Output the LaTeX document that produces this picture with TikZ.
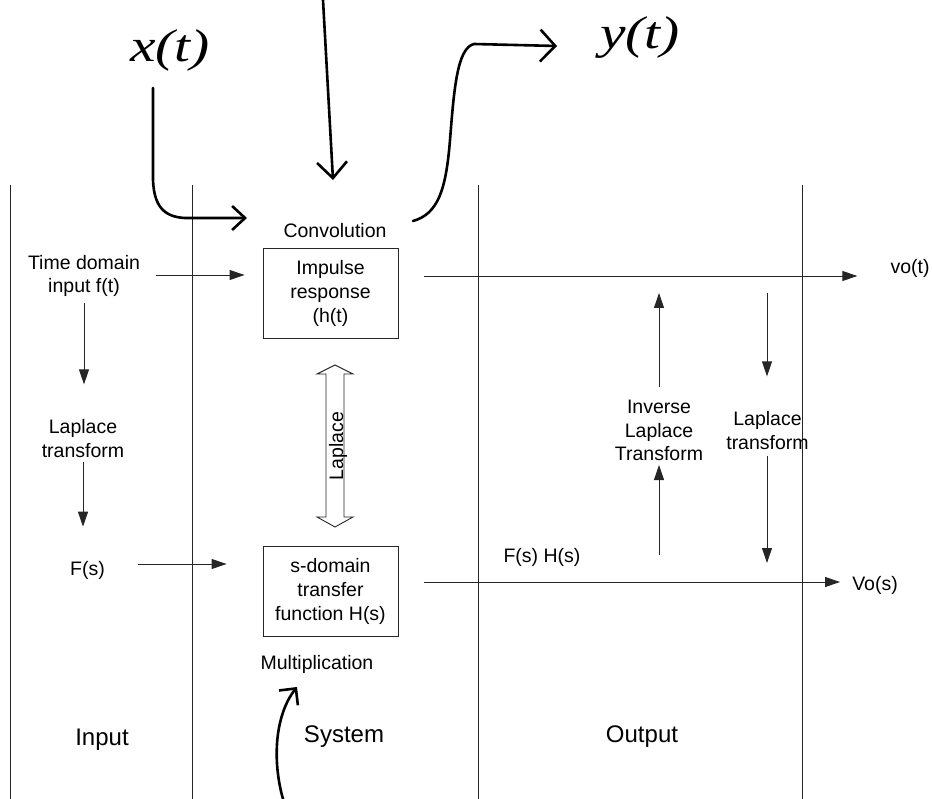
\documentclass[tikz,border=0pt]{standalone}
\usepackage{fontspec}
\setmainfont{Liberation Sans}
\newfontfamily\hwfont[FakeStretch=1.25]{Liberation Serif}
\usetikzlibrary{arrows.meta}
\begin{document}
\begin{tikzpicture}[x=1pt,y=-1pt,
  thinln/.style={line width=0.9pt, draw=black!85},
  arr/.style={thinln, -{Triangle[length=15pt,width=10pt]}},
  lbl/.style={font=\fontsize{19.5}{23.5}\selectfont, align=center, inner sep=0pt},
  big/.style={font=\fontsize{24}{28}\selectfont, inner sep=0pt},
  blk/.style={draw=black!85, line width=0.9pt, minimum width=135pt, minimum height=90pt,
    align=center, font=\fontsize{19.5}{24}\selectfont, inner sep=2pt},
  hand/.style={line width=2.6pt, line cap=round, line join=round},
  handtxt/.style={font=\fontsize{46}{46}\selectfont\hwfont\itshape, inner sep=0pt}
]
\useasboundingbox (0,0) rectangle (932,799);

% column lines
\foreach \x in {10,192,478,802} \draw[thinln] (\x,185) -- (\x,799);

% nodes
\node[lbl] (conv) at (335,231) {Convolution};
\node[blk] (imp) at (330.5,293) {Impulse\\response\\(h(t)};
\node[blk] (sdom) at (330.5,591) {s-domain\\transfer\\function H(s)};
\node[lbl] (mult) at (317,664) {Multiplication};
\node[lbl] (tdi) at (84,276) {Time domain\\input f(t)};
\node[lbl] (ltl) at (83,438.5) {Laplace\\transform};
\node[lbl] (fs) at (87.5,570) {F(s)};
\node[lbl] (vot) at (910,268) {vo(t)};
\node[lbl] (vos) at (875,585) {Vo(s)};
\node[lbl] (inv) at (659,430.5) {Inverse\\Laplace\\Transform};
\node[lbl] (ltr) at (767.5,430.5) {Laplace\\transform};
\node[lbl] (fshs) at (542,557) {F(s) H(s)};
\node[big] (inp) at (102,740) {Input};
\node[big] (sys) at (344,737) {System};
\node[big] (outp) at (642,737) {Output};

% free ends
\coordinate (iu) at (659,293);
\coordinate (il) at (659,555);
\coordinate (dt) at (767,293);
\coordinate (db) at (767,563);

% connectors
\draw[arr, shorten <=16pt, shorten >=18pt] ([yshift=1pt]tdi.east) -- ([yshift=1pt]tdi.east -| imp.west);
\draw[arr, shorten <=6pt, shorten >=35pt] (tdi.south) -- (tdi.south |- ltl.north);
\draw[arr, shorten <=4pt, shorten >=34pt] (ltl.south) -- (ltl.south |- fs.north);
\draw[arr, shorten <=33pt, shorten >=36pt] ([yshift=6pt]fs.east) -- ([yshift=6pt]fs.east -| sdom.west);
\draw[arr, shorten <=26pt, shorten >=33pt] ([yshift=17pt]imp.east) -- ([yshift=17pt]imp.east -| vot.west);
\draw[arr, shorten <=26pt, shorten >=12pt] ([yshift=9pt]sdom.east) -- ([yshift=9pt]sdom.east -| vos.west);
\draw[arr, shorten >=4pt] (il) -- (il |- inv.south);
\draw[arr, shorten <=13pt] (iu |- inv.north) -- (iu);
\draw[arr, shorten >=35pt] (dt) -- (dt |- ltr.north);
\draw[arr, shorten <=6pt] (db |- ltr.south) -- (db);

% Laplace double arrow
\draw[thinln, line join=miter] (335,365) -- (353,374) -- (344,374) -- (344,517) -- (353,517)
  -- (335,527) -- (317,517) -- (326,517) -- (326,374) -- (317,374) -- cycle;
\node[lbl, rotate=90] (lap) at (338,446) {Laplace};

% handwritten annotations
\node[handtxt] (xt) at (170,50) {x(t)};
\node[handtxt] (yt) at (640,38) {y(t)};
\coordinate (xa) at (153,88);
\coordinate (xe) at (247,218);
\draw[hand, -{Straight Barb[length=13pt,width=24pt]}] (xa) -- (153,180)
  .. controls (154,205) and (163,217) .. (185,218) -- (xe);
\coordinate (ta) at (323,0);
\coordinate (te) at (333,180);
\draw[hand, -{Straight Barb[length=16pt,width=30pt]}] (ta) -- (te);
\coordinate (ya) at (413,221);
\coordinate (ye) at (557,46);
\draw[hand, -{Straight Barb[length=15pt,width=32pt]}] (ya) .. controls (438,214) and (446,190) .. (450,140)
  .. controls (454,90) and (457,48) .. (474,44) -- (ye);
\coordinate (ba) at (283,799);
\coordinate (be) at (297,687);
\draw[hand, -{Straight Barb[length=12pt,width=24pt]}] (ba) .. controls (272,760) and (275,715) .. (be);
\end{tikzpicture}
\end{document}
